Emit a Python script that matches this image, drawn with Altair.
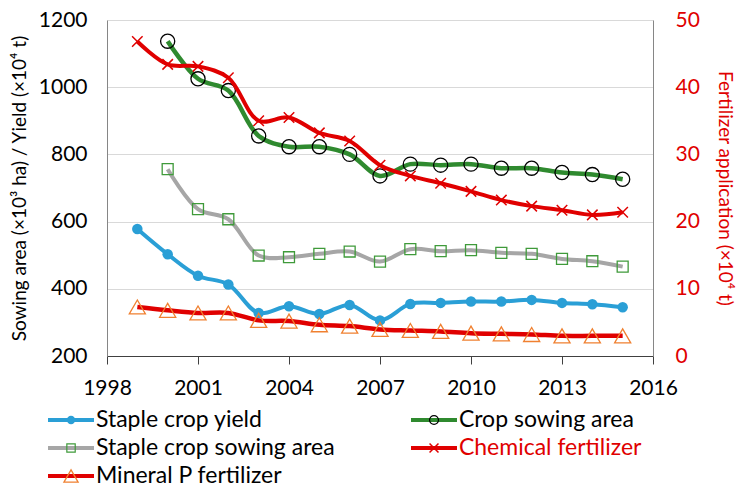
import altair as alt
import pandas as pd

# ---------------- data ----------------
years = list(range(1999, 2016))
staple_yield = [578, 503, 439, 413, 328, 348, 325, 352, 306, 355, 358, 362, 362, 367, 358, 354, 345]
crop_area = [None, 1137, 1025, 990, 855, 823, 823, 800, 736, 771, 768, 771, 759, 759, 746, 740, 726]
staple_area = [None, 756, 637, 607, 499, 494, 504, 511, 481, 518, 512, 515, 507, 504, 489, 482, 466]
chem_fert = [46.8, 43.4, 43.1, 41.4, 35.0, 35.5, 33.2, 32.0, 28.4, 26.8, 25.7, 24.5, 23.2, 22.3, 21.7, 21.0, 21.4]
mineral_p = [7.3, 6.8, 6.4, 6.4, 5.3, 5.2, 4.65, 4.45, 3.96, 3.8, 3.66, 3.4, 3.3, 3.2, 3.0, 3.0, 3.0]

x_ticks = [1998, 2001, 2004, 2007, 2010, 2013, 2016]
left_ticks = [200, 400, 600, 800, 1000, 1200]
right_ticks = [0, 10, 20, 30, 40, 50]

leg_names = ["Staple crop yield", "Crop sowing area", "Staple crop sowing area",
             "Chemical fertilizer", "Mineral P fertilizer"]
leg_col = [0, 1, 0, 1, 0]
leg_row = [0, 0, 1, 1, 2]

# ---------------- style ----------------
FONT = "Lato"
BLUE = "#2A9FD6"
GREEN = "#2F8A2F"
GRAY = "#A6A6A6"
RED = "#E00000"
SQ_GREEN = "#3F9A3A"
ORANGE = "#F08030"
X_PATH = "M-1,-1L1,1M-1,1L1,-1"

df = pd.DataFrame({
    "year": years,
    "yield": staple_yield,
    "crop": crop_area,
    "staple": staple_area,
    "chem": chem_fert,
    "minp": mineral_p,
})

xenc = alt.X("year:Q",
             scale=alt.Scale(domain=[1998, 2016], nice=False, zero=False),
             axis=alt.Axis(values=x_ticks, format="d", title=None, grid=False,
                           labelFontSize=21, labelFont=FONT, labelColor="#000",
                           domainColor="#404040", tickColor="#404040", tickSize=8,
                           labelPadding=13, labelFlush=False))

yL_scale = alt.Scale(domain=[200, 1200], nice=False, zero=False)
yR_scale = alt.Scale(domain=[0, 50], nice=False, zero=False)

left_axis = alt.Axis(values=left_ticks, format="d",
                     title="Sowing area (×10³ ha) / Yield (×10⁴ t)",
                     grid=True, gridColor="#D9D9D9", ticks=False, domainColor="#868686",
                     labelFontSize=21, labelFont=FONT, labelColor="#000",
                     titleFontSize=19, titleFont=FONT, titleFontWeight="normal",
                     titleColor="#000", labelPadding=20, titlePadding=9)
right_axis = alt.Axis(values=right_ticks, orient="right",
                      title="Fertilizer application (×10⁴ t)",
                      grid=False, ticks=False, domainColor="#868686",
                      labelFontSize=21, labelFont=FONT, labelColor=RED,
                      titleFontSize=19, titleFont=FONT, titleFontWeight="normal",
                      titleColor=RED, labelPadding=22, titlePadding=15)

base = alt.Chart(df)


def series(field, scale, axis, line_color, line_w, pt):
    y = alt.Y(f"{field}:Q", scale=scale, axis=axis)
    b = base.transform_filter(f"isValid(datum.{field})")
    line = b.mark_line(color=line_color, strokeWidth=line_w,
                       interpolate="catmull-rom").encode(x=xenc, y=y)
    point = b.mark_point(**pt).encode(x=xenc, y=y)
    return [line, point]


left_layers = (
    series("yield", yL_scale, left_axis, BLUE, 4,
           dict(shape="circle", filled=True, color=BLUE, size=110, opacity=1))
    + series("crop", yL_scale, left_axis, GREEN, 4.5,
             dict(shape="circle", filled=False, color="#000", size=200,
                  strokeWidth=1.3, opacity=1))
    + series("staple", yL_scale, left_axis, GRAY, 4,
             dict(shape="square", filled=False, color=SQ_GREEN, size=120,
                  strokeWidth=1.3, opacity=1))
)
right_layers = (
    series("chem", yR_scale, right_axis, RED, 4,
           dict(shape=X_PATH, filled=False, color=RED, size=110,
                strokeWidth=1.5, opacity=1))
    + series("minp", yR_scale, right_axis, RED, 4.5,
             dict(shape="triangle-up", filled=False, color=ORANGE, size=260,
                  strokeWidth=1.3, opacity=1))
)

main = alt.layer(
    alt.layer(*left_layers),
    alt.layer(*right_layers),
).resolve_scale(y="independent").properties(width=546, height=336)

# ---------------- custom legend ----------------
leg = pd.DataFrame({"name": leg_names, "col": leg_col, "row": leg_row})
line_colors = [BLUE, GREEN, GRAY, RED, RED]
text_colors = ["#000", "#000", "#000", RED, "#000"]

lx = alt.Scale(domain=[0.1625, 1.6667], nice=False, zero=False)
ly = alt.Scale(domain=[-0.7857, 2.3929], nice=False, zero=False, reverse=True)

lbase = alt.Chart(leg).transform_calculate(
    lx2="datum.col + 0.1267", mx="datum.col + 0.0634", tx="datum.col + 0.132"
)
ypos = alt.Y("row:Q", scale=ly, axis=None)

leg_lines = lbase.mark_rule(strokeWidth=4).encode(
    x=alt.X("col:Q", scale=lx, axis=None), x2="lx2:Q", y=ypos,
    color=alt.Color("name:N", scale=alt.Scale(domain=leg_names, range=line_colors), legend=None),
)
marker_styles = [
    dict(shape="circle", filled=True, color=BLUE, size=70, opacity=1),
    dict(shape="circle", filled=False, color="#000", size=80, strokeWidth=1.2, opacity=1),
    dict(shape="square", filled=False, color=SQ_GREEN, size=70, strokeWidth=1.2, opacity=1),
    dict(shape=X_PATH, filled=False, color=RED, size=80, strokeWidth=1.5, opacity=1),
    dict(shape="triangle-up", filled=False, color=ORANGE, size=200, strokeWidth=1.3, opacity=1),
]
leg_marks = [
    lbase.transform_filter(alt.datum.name == n).mark_point(**st).encode(
        x=alt.X("mx:Q", scale=lx, axis=None), y=ypos)
    for n, st in zip(leg_names, marker_styles)
]
leg_text = lbase.mark_text(align="left", baseline="middle", fontSize=23, font=FONT).encode(
    x=alt.X("tx:Q", scale=lx, axis=None), y=ypos, text="name:N",
    color=alt.Color("name:N", scale=alt.Scale(domain=leg_names, range=text_colors), legend=None),
)
legend = alt.layer(leg_lines, *leg_marks, leg_text).resolve_scale(color="independent").properties(
    width=546, height=89)

chart = alt.vconcat(main, legend, spacing=0).properties(
    padding={"left": 2, "top": 1, "right": 3, "bottom": 0}, background="white"
).configure_view(strokeWidth=0, stroke="transparent")

chart.save("out.html", embed_options={"renderer": "svg", "actions": False})
